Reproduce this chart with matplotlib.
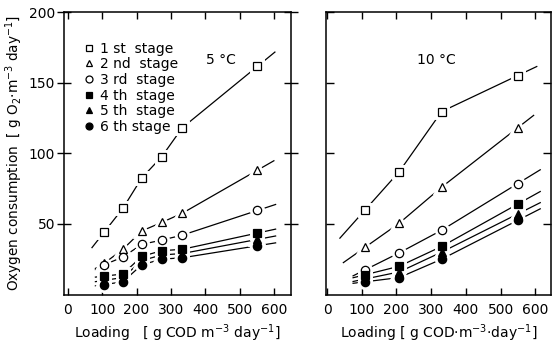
import matplotlib
matplotlib.use("Agg")
import matplotlib.pyplot as plt
import numpy as np

plt.rcParams['font.family'] = ['DejaVu Sans']

# ---------------- data ----------------
stage_labels = ["1 st  stage", "2 nd  stage", "3 rd  stage", "4 th  stage", "5 th  stage", "6 th stage"]
stage_markers = ["s", "^", "o", "s", "^", "o"]
stage_filled = [False, False, False, True, True, True]

# 5 °C panel
x5 = [105, 160, 215, 273, 333, 552]
y5 = [
    [44, 61, 82.5, 97.5, 118, 161.5],
    [22, 32, 45, 51, 57.5, 88],
    [21, 26.5, 35.5, 38.5, 42, 59.5],
    [13, 14.5, 27, 31, 32, 43.5],
    [10, 12, 24, 28, 29, 39],
    [7, 9, 21, 25, 26, 34.5],
]
ext5_start = [70, 80, 80, 80, 80, 80]
ext5_end = [603, 600, 605, 605, 605, 605]

# 10 °C panel
x10 = [110, 208, 330, 549]
y10 = [
    [60, 87, 129.5, 155],
    [33.5, 50.5, 76, 118],
    [17.5, 29.5, 45.5, 78.5],
    [14, 20, 34, 64],
    [11, 16, 30, 57],
    [9, 12, 25, 52.5],
]
ext10_start = [37, 47, 75, 75, 75, 75]
ext10_end = [604, 595, 614, 614, 614, 614]

xticks = [0, 100, 200, 300, 400, 500, 600]
yticks = [50, 100, 150, 200]

W, H = 553, 343
fig = plt.figure(figsize=(W / 100, H / 100), dpi=100)
axL = fig.add_axes([63.5 / W, 1 - 294.5 / H, 227.2 / W, 282.5 / H])
axR = fig.add_axes([326 / W, 1 - 294.5 / H, 225 / W, 282.5 / H])


def draw(ax, xs, ys, ext_s, ext_e):
    xs = np.asarray(xs, float)
    # lines
    for y, s, e in zip(ys, ext_s, ext_e):
        y = np.asarray(y, float)
        k0 = (y[1] - y[0]) / (xs[1] - xs[0])
        k1 = (y[-1] - y[-2]) / (xs[-1] - xs[-2])
        lx = np.concatenate([[s], xs, [e]])
        ly = np.concatenate([[y[0] + k0 * (s - xs[0])], y, [y[-1] + k1 * (e - xs[-1])]])
        ax.plot(lx, ly, color='black', lw=0.9, zorder=2)
    # halos
    for y, m in zip(ys, stage_markers):
        ax.plot(xs, y, ls='none', marker=m, ms=6, mfc='white', mec='white', mew=5, zorder=3)
    # markers
    for y, m, f in zip(ys, stage_markers, stage_filled):
        ax.plot(xs, y, ls='none', marker=m, ms=6,
                mfc='black' if f else 'white', mec='black', mew=0.9, zorder=4)


draw(axL, x5, y5, ext5_start, ext5_end)
draw(axR, x10, y10, ext10_start, ext10_end)

for ax, xl in ((axL, (-13, 649)), (axR, (-3, 645))):
    ax.set_xlim(*xl)
    ax.set_ylim(0, 200)
    ax.set_xticks(xticks)
    ax.set_yticks(yticks)
    for sp in ax.spines.values():
        sp.set_linewidth(1.1)
    ax.tick_params(axis='x', direction='in', length=5, width=1, top=True, labelsize=10, pad=6)
    ax.tick_params(axis='y', direction='in', length=6, width=1, right=True, labelsize=10)

axL.tick_params(axis='y', direction='inout', length=10, left=True, pad=1)
axR.tick_params(axis='y', labelleft=False)

axL.set_ylabel("Oxygen consumption  [ g O$_2$$\\cdot$m$^{-3}$ day$^{-1}$]", fontsize=9.8, labelpad=3)
axL.set_xlabel("Loading   [ g COD m$^{-3}$ day$^{-1}$]", fontsize=10, labelpad=4)
axR.set_xlabel("Loading [ g COD$\\cdot$m$^{-3}$$\\cdot$day$^{-1}$]", fontsize=10, labelpad=4)

axL.text(445, 166, "5 °C", fontsize=10, ha='center', va='center')
axR.text(316, 166, "10 °C", fontsize=10, ha='center', va='center')

handles = []
for m, f in zip(stage_markers, stage_filled):
    h, = axL.plot([], [], ls='none', marker=m, ms=5, mfc='black' if f else 'white', mec='black', mew=0.9)
    handles.append(h)
axL.legend(handles, stage_labels, loc='upper left', bbox_to_anchor=(0.08, 0.895), frameon=False,
           fontsize=10, handletextpad=0.3, labelspacing=0.12, handlelength=1.0, borderaxespad=0,
           borderpad=0)

fig.savefig("out.png", dpi=100)
